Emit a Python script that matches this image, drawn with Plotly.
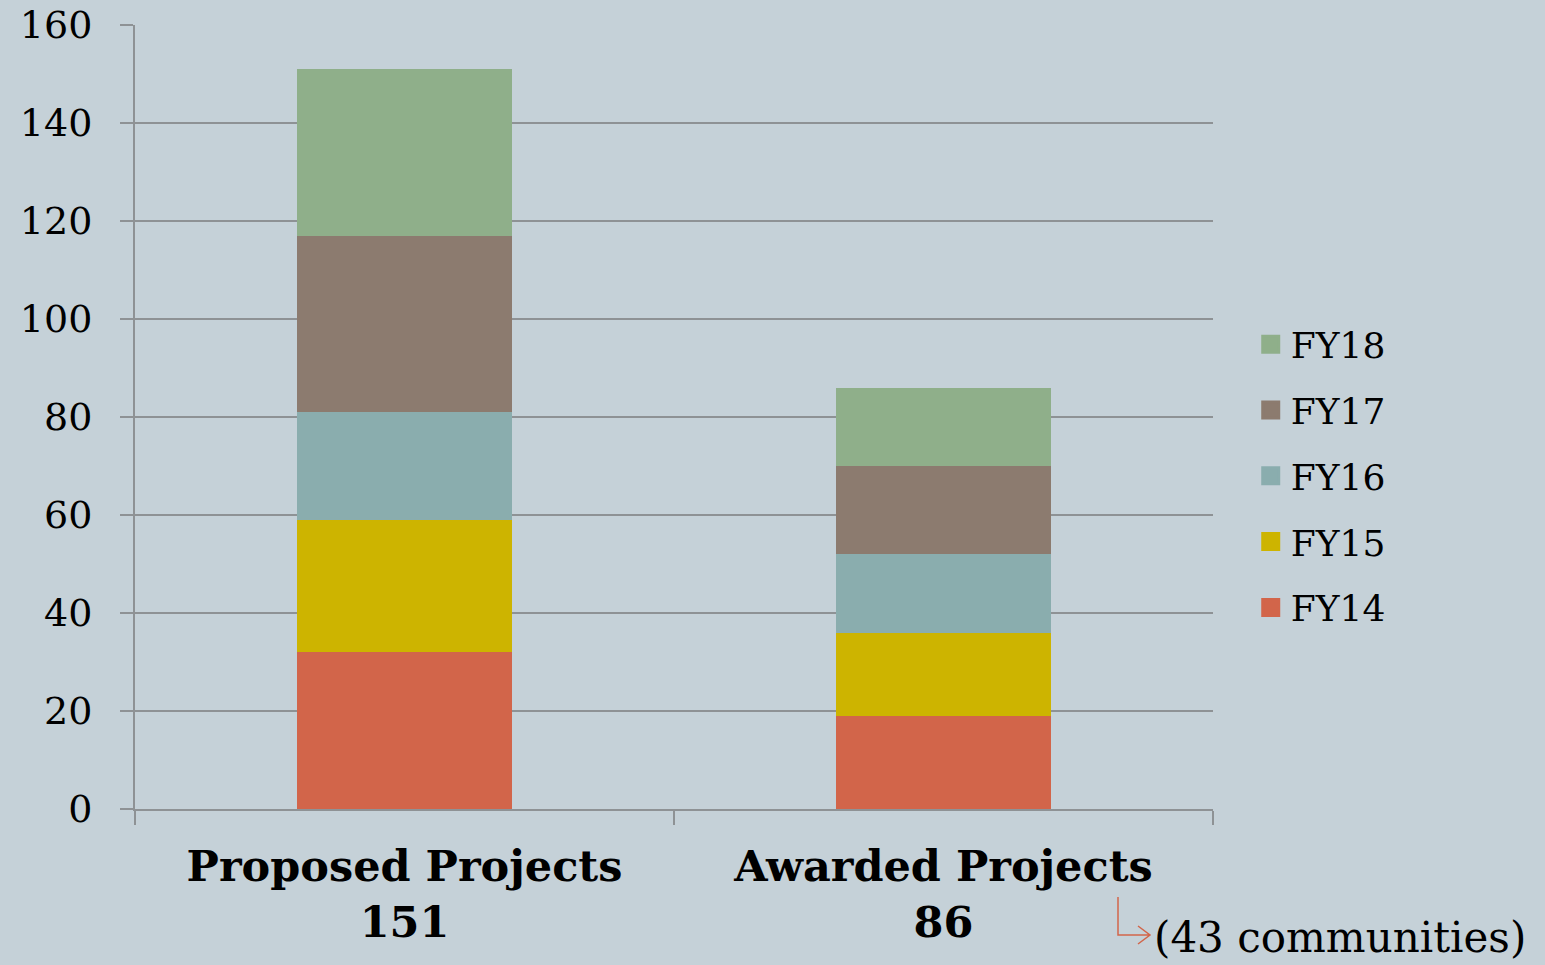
import plotly.graph_objects as go

categories = ["Proposed Projects", "Awarded Projects"]
totals = [151, 86]
series_names = ["FY14", "FY15", "FY16", "FY17", "FY18"]
fy14 = [32, 19]
fy15 = [27, 17]
fy16 = [22, 16]
fy17 = [36, 18]
fy18 = [34, 16]
colors = ["#D2654A", "#CDB400", "#8AADAE", "#8C7B6F", "#8FAF8A"]
y_ticks = [0, 20, 40, 60, 80, 100, 120, 140, 160]
note_text = "(43 communities)"

FONT = "DejaVu Serif"
BG = "#C5D1D8"
GRID = "#8E9295"

fig = go.Figure()
n = len(series_names)
for i, (name, vals, col) in enumerate(zip(series_names, [fy14, fy15, fy16, fy17, fy18], colors)):
    fig.add_trace(go.Bar(x=categories, y=vals, name=name, marker=dict(color=col, line=dict(width=0)),
                         width=0.4, showlegend=False, legendgroup=name))
    # legend entry with a larger square swatch
    fig.add_trace(go.Scatter(x=[None], y=[None], mode="markers", name=name, legendgroup=name,
                             legendrank=1000 + (n - i),
                             marker=dict(symbol="square", size=16, color=col, line=dict(color=col, width=3)),
                             showlegend=True, hoverinfo="skip"))

ticktext = [f"<b>{c}<br>{t}</b>" for c, t in zip(categories, totals)]

W, H = 1545, 965
L, R, T, B = 135, 332, 25, 156
pw, ph = W - L - R, H - T - B

def px(x):
    return (x - L) / pw

def py(y):
    return (H - B - y) / ph

fig.update_layout(
    width=W, height=H,
    margin=dict(l=L, r=R, t=T, b=B, autoexpand=False),
    paper_bgcolor=BG, plot_bgcolor=BG,
    barmode="stack",
    font=dict(family=FONT, size=34, color="black"),
    showlegend=True,
    legend=dict(traceorder="grouped", x=1.035, y=0.425, xanchor="left", yanchor="middle",
                font=dict(size=36), itemwidth=30, tracegroupgap=16, bgcolor="rgba(0,0,0,0)",
                itemsizing="trace"),
    xaxis=dict(tickmode="array", tickvals=categories, ticktext=ticktext, tickson="boundaries",
               ticks="outside", ticklen=14, tickcolor=GRID, tickwidth=2,
               showline=True, linecolor=GRID, linewidth=2, showgrid=False,
               ticklabelstandoff=18,
               tickfont=dict(size=43, family=FONT)),
    yaxis=dict(range=[0, 160], tickvals=y_ticks, ticks="outside", ticklen=13, tickcolor=GRID, tickwidth=2,
               showline=True, linecolor=GRID, linewidth=2, showgrid=True, gridcolor=GRID, gridwidth=2,
               zeroline=False, ticklabelstandoff=20, tickfont=dict(size=38, family=FONT)),
    bargap=0.6,
)

# L-shaped arrow pointing to the note
fig.add_shape(type="path", xref="paper", yref="paper",
              path=f"M {px(1118)} {py(897)} L {px(1118)} {py(935)} L {px(1150)} {py(935)} "
                   f"M {px(1138)} {py(926)} L {px(1150)} {py(935)} L {px(1138)} {py(944)}",
              line=dict(color="#D2654A", width=1.5))
fig.add_annotation(xref="paper", yref="paper", x=px(1152), y=py(938), xanchor="left", yanchor="middle",
                   text=note_text, showarrow=False, font=dict(size=42, family=FONT, color="black"))

fig.write_html("out.html", config={"displayModeBar": False},
               post_script="document.body.style.margin='0';document.body.style.overflow='hidden';")
